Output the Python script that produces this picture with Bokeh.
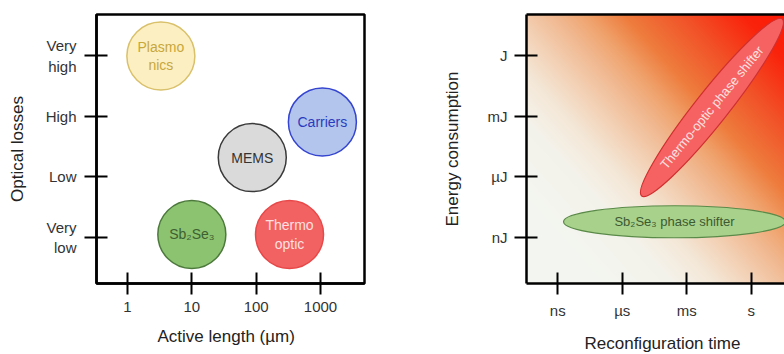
import numpy as np
from bokeh.plotting import figure
from bokeh.layouts import row
from bokeh.models import FixedTicker, LinearAxis, Range1d, ColumnDataSource, Title
from bokeh.core.properties import value
from bokeh.embed import file_html
from bokeh.resources import INLINE

# ---------------- data: left panel ----------------
tech_names = ["Plasmonics", "Carriers", "MEMS", "Sb2Se3", "Thermo optic"]
tech_labels = ["Plasmo\nnics", "Carriers", "MEMS", "Sb\u2082Se\u2083", "Thermo\noptic"]
active_length_um = [3.3, 1070, 87, 10, 330]
optical_loss_level = [4.0, 2.91, 2.32, 1.05, 1.05]
length_ticks = [1, 10, 100, 1000]
length_tick_labels = ["1", "10", "100", "1000"]
loss_ticks = [1, 2, 3, 4]
loss_tick_labels = ["Very\nlow", "Low", "High", "Very\nhigh"]

# ---------------- data: right panel ----------------
shifter_labels = ["Thermo-optic phase shifter", "Sb\u2082Se\u2083 phase shifter"]
shifter_time = [3.39, 2.81]       # tick index units: ns=1, us=2, ms=3, s=4
shifter_energy = [3.15, 1.26]     # tick index units: nJ=1, uJ=2, mJ=3, J=4
time_ticks = [1, 2, 3, 4]
time_tick_labels = ["ns", "\u00b5s", "ms", "s"]
energy_ticks = [1, 2, 3, 4]
energy_tick_labels = ["nJ", "\u00b5J", "mJ", "J"]

# ---------------- styles ----------------
FONT = "Liberation Sans"
circle_fill = ["#fcefc2", "#b3c5ec", "#dadada", "#8cc371", "#f26262"]
circle_line = ["#d9c06a", "#3545d0", "#3a3a3a", "#4d7a3c", "#e84848"]
circle_text = ["#c8a73a", "#2a3bbf", "#333333", "#3e6030", "#fde0e0"]
shifter_fill = ["#f66262", "#a8d18c"]
shifter_line = ["#d03030", "#5a8a48"]
shifter_text = ["#fde2e2", "#3d5a30"]
shifter_w = [226, 222]
shifter_h = [33, 32]
shifter_angle = [0.90, 0.0]
text_angle = [0.885, 0.0]

Y0, Y1 = 0.24, 4.685


def style_axes(p):
    for ax in (p.xaxis[0], p.yaxis[0]):
        ax.axis_line_width = 2.5
        ax.axis_line_color = "black"
        ax.major_tick_line_width = 2
        ax.major_tick_line_color = "black"
        ax.major_tick_in = 11
        ax.major_tick_out = 11
        ax.minor_tick_line_color = None
        ax.major_label_text_font = FONT
        ax.major_label_text_font_size = "15px"
        ax.major_label_text_color = "#333333"
        ax.axis_label_text_font = FONT
        ax.axis_label_text_font_size = "17px"
        ax.axis_label_text_font_style = "normal"
        ax.axis_label_text_color = "#222222"
    p.xaxis[0].major_label_standoff = 7
    p.grid.visible = False


def x_title(p, text, off):
    # leading blank line reserves the gap between tick labels and the title
    p.add_layout(Title(text="\n" + text, align="left", offset=off, text_font=FONT,
                       text_font_size="17px", text_font_style="normal",
                       text_color="#222222", text_line_height=0.5, standoff=0,
                       vertical_align="bottom"), "below")


# ---------------- left figure ----------------
p1 = figure(width=392, height=354, output_backend="svg", toolbar_location=None,
            x_axis_type="log",
            x_range=Range1d(10 ** -0.482, 10 ** 3.684), y_range=Range1d(Y0, Y1),
            min_border_left=96, min_border_right=28, min_border_top=14, min_border_bottom=71)
p1.outline_line_color = "black"
p1.outline_line_width = 2.5
p1.outline_line_alpha = 1
p1.background_fill_color = "white"
p1.border_fill_color = "white"
style_axes(p1)
p1.xaxis[0].ticker = FixedTicker(ticks=length_ticks)
p1.xaxis[0].major_label_overrides = {t: l for t, l in zip(length_ticks, length_tick_labels)}
p1.yaxis[0].ticker = FixedTicker(ticks=loss_ticks)
p1.yaxis[0].major_label_overrides = {t: l for t, l in zip(loss_ticks, loss_tick_labels)}
p1.yaxis[0].major_tick_out = 12
p1.yaxis[0].major_label_standoff = 8
p1.yaxis[0].axis_label_standoff = 16
p1.yaxis[0].axis_label = "Optical losses"
x_title(p1, "Active length (\u00b5m)", 61)

src1 = ColumnDataSource(dict(x=active_length_um, y=optical_loss_level, label=tech_labels,
                             fill=circle_fill, line=circle_line, tc=circle_text))
p1.scatter("x", "y", source=src1, marker="circle", size=68, fill_color="fill",
           line_color="line", line_width=1.5)
p1.text("x", "y", text="label", source=src1, text_color="tc", text_align="center",
        text_baseline="middle", text_font=value(FONT), text_font_size="14px",
        text_line_height=1.15)

# ---------------- right figure ----------------
X0, X1 = 0.515, 4.515
p2 = figure(width=392, height=354, output_backend="svg", toolbar_location=None,
            x_range=Range1d(X0, X1), y_range=Range1d(Y0, Y1),
            min_border_left=134, min_border_right=0, min_border_top=14, min_border_bottom=71)
p2.outline_line_color = None
p2.background_fill_color = "white"
p2.border_fill_color = "white"
style_axes(p2)
p2.xaxis[0].ticker = FixedTicker(ticks=time_ticks)
p2.xaxis[0].major_label_overrides = {t: l for t, l in zip(time_ticks, time_tick_labels)}
p2.yaxis[0].ticker = FixedTicker(ticks=energy_ticks)
p2.yaxis[0].major_label_overrides = {t: l for t, l in zip(energy_ticks, energy_tick_labels)}
p2.yaxis[0].major_tick_out = 12
p2.yaxis[0].major_label_standoff = 7
p2.yaxis[0].axis_label_standoff = 23
p2.yaxis[0].axis_label = "Energy consumption"
x_title(p2, "Reconfiguration time", 58)

top_axis = LinearAxis(ticker=FixedTicker(ticks=[]), axis_line_width=2.5, axis_line_color="black",
                      major_tick_line_color=None, minor_tick_line_color=None,
                      major_label_text_font_size="0px")
p2.add_layout(top_axis, "above")

# background gradient (diagonal, red at the top-right corner)
W, H = 258, 270
stops_d = [0, 70, 130, 190, 230, 260, 300, 340, 380, 450]
stops_c = np.array([[255, 20, 0], [250, 35, 12], [242, 82, 40], [238, 125, 62],
                    [240, 165, 112], [241, 185, 145], [243, 210, 182], [244, 232, 216],
                    [244, 242, 234], [243, 246, 240]], float)
jj, ii = np.meshgrid(np.arange(W), np.arange(H))
px = 526.0 + (jj + 0.5) / W * 258.0
py = 283.3 - (ii + 0.5) / H * 269.3
d = (800.0 - px) + 0.9 * py
img = np.empty((H, W), dtype=np.uint32)
view = img.view(dtype=np.uint8).reshape((H, W, 4))
for k in range(3):
    view[:, :, k] = np.interp(d, stops_d, stops_c[:, k]).astype(np.uint8)
view[:, :, 3] = 255
p2.image_rgba(image=[img], x=X0, y=Y0, dw=X1 - X0, dh=Y1 - Y0)

src2 = ColumnDataSource(dict(x=shifter_time, y=shifter_energy, label=shifter_labels,
                             fill=shifter_fill, line=shifter_line, tc=shifter_text,
                             w=shifter_w, h=shifter_h, a=shifter_angle, ta=text_angle))
p2.ellipse("x", "y", width="w", height="h", angle="a", source=src2,
           width_units="screen", height_units="screen",
           fill_color="fill", line_color="line", line_width=1.2)
p2.text("x", "y", text="label", angle="ta", source=src2, text_color="tc",
        text_align="center", text_baseline="middle", text_font=value(FONT),
        text_font_size="13px")

layout = row(p1, p2)
open("out.html", "w").write(file_html(layout, INLINE))
